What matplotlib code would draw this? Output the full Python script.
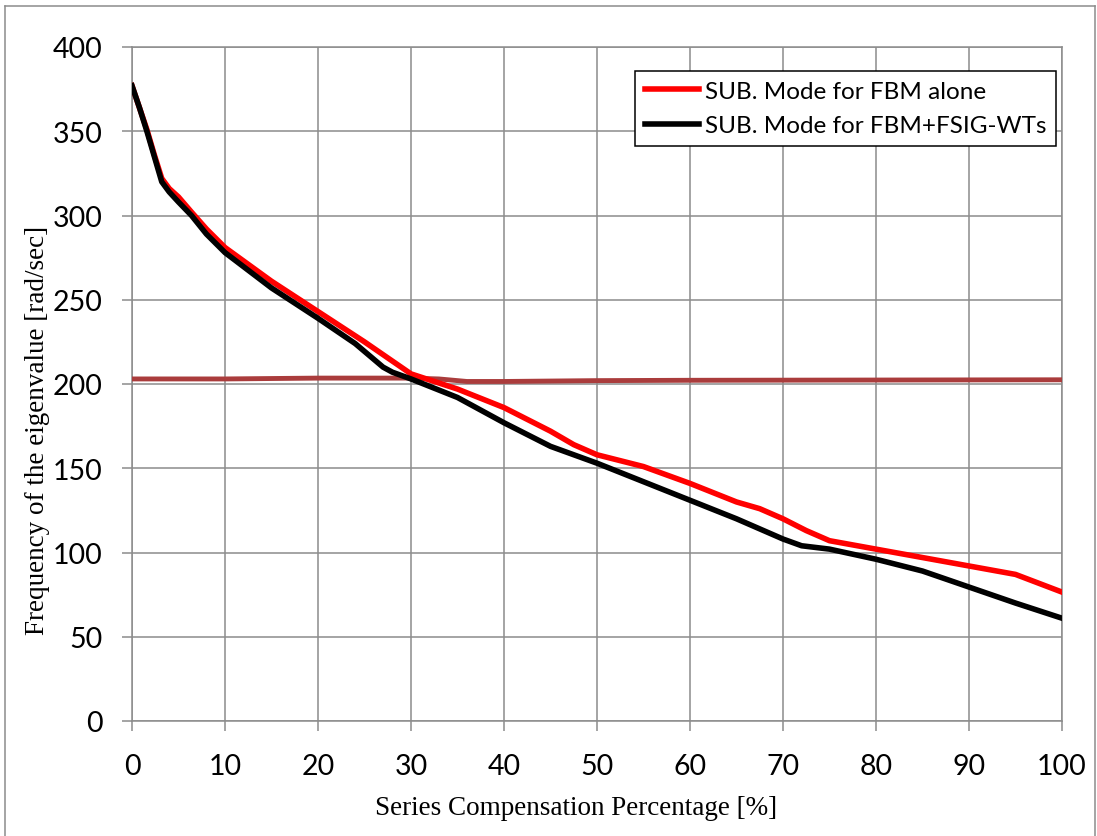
import matplotlib
matplotlib.use('Agg')
import matplotlib.pyplot as plt
from matplotlib.lines import Line2D

# values
comp_red = [0, 0.8, 1.6, 2.4, 3.2, 4, 5, 6.4, 8, 10, 15, 20, 25, 30, 35, 40, 45, 47.5, 50,
            55, 60, 65, 67.5, 70, 72.5, 75, 80, 85, 90, 95, 100]
fbm_alone = [377, 364, 351, 336, 322, 316, 311, 302, 292, 281, 261, 243, 225, 206, 197, 186, 172, 164, 158,
             151, 141, 130, 126, 120, 113, 107, 102, 97, 92, 87, 76.5]

comp_black = [0, 0.8, 1.6, 2.4, 3.2, 4, 5, 6.4, 8, 10, 15, 20, 24, 27, 28, 30, 35, 40, 45, 50,
              55, 60, 65, 70, 72, 75, 80, 85, 90, 95, 100]
fbm_fsig = [377, 364, 350, 335, 320, 314, 308, 300, 289, 278, 257, 239, 224, 210, 207, 203, 192, 177, 163, 153,
            142, 131, 120, 108, 104, 102, 96, 89, 79.5, 70, 61]

comp_ref = [0, 10, 20, 30, 33, 36, 40, 50, 60, 100]
ref_mode = [203, 203, 203.5, 203.5, 203, 201.5, 201.5, 202, 202.2, 202.5]

legend_labels = ['SUB. Mode for FBM alone', 'SUB. Mode for FBM+FSIG-WTs']

grid_col = '#8c8c8c'

plt.rcParams.update({
    'font.family': ['Lato', 'DejaVu Sans'],
    'font.size': 20.5,
})

fig = plt.figure(figsize=(10.97, 8.37), dpi=100)
ax = fig.add_axes([132 / 1097, 1 - 722 / 837, 930 / 1097, 674 / 837])

ax.plot(comp_ref, ref_mode, color='#aa3c3c', linewidth=3.5, solid_capstyle='butt', zorder=3)
ax.plot(comp_red, fbm_alone, color='#ff0000', linewidth=4.0, label=legend_labels[0], zorder=4)
ax.plot(comp_black, fbm_fsig, color='#000000', linewidth=4.0, label=legend_labels[1], zorder=5)

ax.set_xlim(0, 100)
ax.set_ylim(0, 400)
ax.set_xticks(range(0, 101, 10))
ax.set_yticks(range(0, 401, 50))
ax.grid(True, color=grid_col, linewidth=1.1)
ax.set_axisbelow(True)
for s in ax.spines.values():
    s.set_color(grid_col)
    s.set_linewidth(1.1)
ax.tick_params(axis='both', color=grid_col, width=1.1, length=7, labelsize=20.5)
ax.tick_params(axis='y', pad=14)
ax.tick_params(axis='x', pad=16)

ax.set_xlabel('Series Compensation Percentage [%]', family='Liberation Serif', fontsize=19.5)
ax.set_ylabel('Frequency of the eigenvalue [rad/sec]', family='Liberation Serif', fontsize=19.5)
ax.xaxis.set_label_coords(0.478, -0.1276)
ax.xaxis.label.set_va('center')
ax.yaxis.set_label_coords(-0.102, 0.433)
ax.yaxis.label.set_va('center')

leg = ax.legend(loc='upper right', bbox_to_anchor=(0.9935, 0.9644), borderaxespad=0,
                fontsize=17.5, frameon=True, fancybox=False, framealpha=1,
                handlelength=2.2, handletextpad=0.25, borderpad=0.4, labelspacing=0.55)
leg.get_frame().set_edgecolor('black')
leg.get_frame().set_linewidth(1.1)

# thin grey frame around the whole chart
x0, x1, y0 = 5 / 1097, 1095 / 1097, 1 - 7 / 837
for xs, ys in [([x0, x0], [0, y0]), ([x0, x1], [y0, y0]), ([x1, x1], [y0, 0])]:
    fig.add_artist(Line2D(xs, ys, transform=fig.transFigure, color=grid_col, linewidth=1.1))

fig.savefig('out.png', dpi=100)
